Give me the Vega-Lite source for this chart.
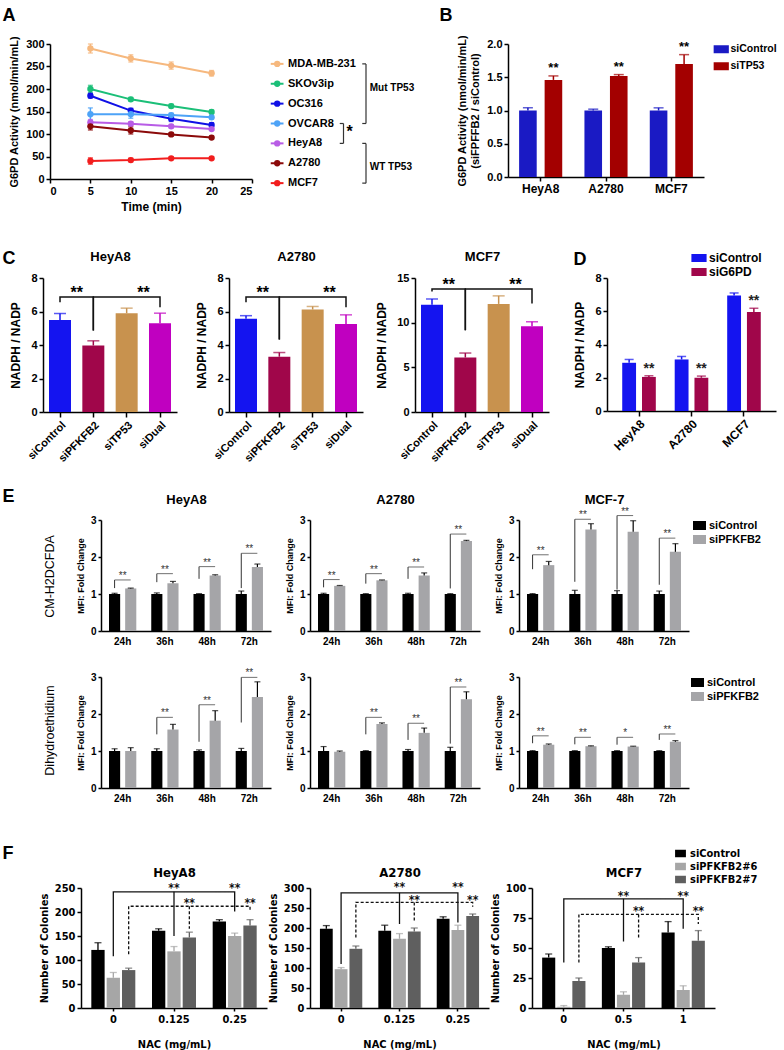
{
"$schema": "https://vega.github.io/schema/vega-lite/v6.json",
"background": "white",
"padding": {"left": 1, "top": 6, "right": 2, "bottom": 2},
"datasets": {
"a": [
{"line":"MDA-MB-231","t":5,"v":290,"err":10},{"line":"MDA-MB-231","t":10,"v":268,"err":8},{"line":"MDA-MB-231","t":15,"v":252,"err":8},{"line":"MDA-MB-231","t":20,"v":235,"err":6},
{"line":"SKOv3ip","t":5,"v":200,"err":8},{"line":"SKOv3ip","t":10,"v":177,"err":4},{"line":"SKOv3ip","t":15,"v":162,"err":4},{"line":"SKOv3ip","t":20,"v":149,"err":4},
{"line":"OC316","t":5,"v":185,"err":5},{"line":"OC316","t":10,"v":152,"err":5},{"line":"OC316","t":15,"v":134,"err":6},{"line":"OC316","t":20,"v":120,"err":5},
{"line":"OVCAR8","t":5,"v":144,"err":14},{"line":"OVCAR8","t":10,"v":144,"err":9},{"line":"OVCAR8","t":15,"v":142,"err":4},{"line":"OVCAR8","t":20,"v":137,"err":4},
{"line":"HeyA8","t":5,"v":126,"err":6},{"line":"HeyA8","t":10,"v":123,"err":4},{"line":"HeyA8","t":15,"v":117,"err":4},{"line":"HeyA8","t":20,"v":111,"err":3},
{"line":"A2780","t":5,"v":117,"err":8},{"line":"A2780","t":10,"v":108,"err":8},{"line":"A2780","t":15,"v":99,"err":4},{"line":"A2780","t":20,"v":92,"err":3},
{"line":"MCF7","t":5,"v":40,"err":7},{"line":"MCF7","t":10,"v":42,"err":4},{"line":"MCF7","t":15,"v":46,"err":3},{"line":"MCF7","t":20,"v":46,"err":3}
],
"cells": [{"name":"MDA-MB-231"},{"name":"SKOv3ip"},{"name":"OC316"},{"name":"OVCAR8"},{"name":"HeyA8"},{"name":"A2780"},{"name":"MCF7"}],
"b": [
{"cell":"HeyA8","grp":"siControl","v":1.0,"hi":1.04},{"cell":"HeyA8","grp":"siTP53","v":1.46,"hi":1.52},
{"cell":"A2780","grp":"siControl","v":1.0,"hi":1.02},{"cell":"A2780","grp":"siTP53","v":1.52,"hi":1.54},
{"cell":"MCF7","grp":"siControl","v":1.0,"hi":1.04},{"cell":"MCF7","grp":"siTP53","v":1.70,"hi":1.84}
],
"c": [
{"cell":"HeyA8","si":"siControl","v":5.5,"hi":5.88},{"cell":"HeyA8","si":"siPFKFB2","v":3.97,"hi":4.25},{"cell":"HeyA8","si":"siTP53","v":5.9,"hi":6.2},{"cell":"HeyA8","si":"siDual","v":5.3,"hi":5.9},
{"cell":"A2780","si":"siControl","v":5.57,"hi":5.75},{"cell":"A2780","si":"siPFKFB2","v":3.3,"hi":3.55},{"cell":"A2780","si":"siTP53","v":6.12,"hi":6.3},{"cell":"A2780","si":"siDual","v":5.25,"hi":5.8},
{"cell":"MCF7","si":"siControl","v":12.0,"hi":12.65},{"cell":"MCF7","si":"siPFKFB2","v":6.1,"hi":6.6},{"cell":"MCF7","si":"siTP53","v":12.1,"hi":13.0},{"cell":"MCF7","si":"siDual","v":9.6,"hi":10.1}
],
"cbr": [
{"cell":"HeyA8","seg":"L","ord":1,"si":"siControl","y":6.55},{"cell":"HeyA8","seg":"L","ord":2,"si":"siControl","y":6.87},{"cell":"HeyA8","seg":"L","ord":3,"si":"siPFKFB2","y":6.87},{"cell":"HeyA8","seg":"L","ord":4,"si":"siPFKFB2","y":4.86},
{"cell":"HeyA8","seg":"R","ord":1,"si":"siPFKFB2","y":4.86},{"cell":"HeyA8","seg":"R","ord":2,"si":"siPFKFB2","y":6.87},{"cell":"HeyA8","seg":"R","ord":3,"si":"siDual","y":6.87},{"cell":"HeyA8","seg":"R","ord":4,"si":"siDual","y":6.25},
{"cell":"A2780","seg":"L","ord":1,"si":"siControl","y":6.55},{"cell":"A2780","seg":"L","ord":2,"si":"siControl","y":6.87},{"cell":"A2780","seg":"L","ord":3,"si":"siPFKFB2","y":6.87},{"cell":"A2780","seg":"L","ord":4,"si":"siPFKFB2","y":4.33},
{"cell":"A2780","seg":"R","ord":1,"si":"siPFKFB2","y":4.33},{"cell":"A2780","seg":"R","ord":2,"si":"siPFKFB2","y":6.87},{"cell":"A2780","seg":"R","ord":3,"si":"siDual","y":6.87},{"cell":"A2780","seg":"R","ord":4,"si":"siDual","y":6.25},
{"cell":"MCF7","seg":"L","ord":1,"si":"siControl","y":13.5},{"cell":"MCF7","seg":"L","ord":2,"si":"siControl","y":13.76},{"cell":"MCF7","seg":"L","ord":3,"si":"siPFKFB2","y":13.76},{"cell":"MCF7","seg":"L","ord":4,"si":"siPFKFB2","y":9.15},
{"cell":"MCF7","seg":"R","ord":1,"si":"siPFKFB2","y":9.15},{"cell":"MCF7","seg":"R","ord":2,"si":"siPFKFB2","y":13.76},{"cell":"MCF7","seg":"R","ord":3,"si":"siDual","y":13.76},{"cell":"MCF7","seg":"R","ord":4,"si":"siDual","y":12.15}
],
"cst": [
{"cell":"HeyA8","si":"siPFKFB2","y":7.26},{"cell":"HeyA8","si":"siDual","y":7.26},
{"cell":"A2780","si":"siPFKFB2","y":7.26},{"cell":"A2780","si":"siDual","y":7.26},
{"cell":"MCF7","si":"siPFKFB2","y":14.6},{"cell":"MCF7","si":"siDual","y":14.6}
],
"d": [
{"cell":"HeyA8","grp":"siControl","v":2.9,"hi":3.1},{"cell":"HeyA8","grp":"siG6PD","v":2.05,"hi":2.12},
{"cell":"A2780","grp":"siControl","v":3.1,"hi":3.28},{"cell":"A2780","grp":"siG6PD","v":2.0,"hi":2.1},
{"cell":"MCF7","grp":"siControl","v":6.95,"hi":7.1},{"cell":"MCF7","grp":"siG6PD","v":5.95,"hi":6.18}
],
"e": [
{"row":"t","cell":"HeyA8","time":"24h","grp":"siControl","v":1.0,"hi":1.02},{"row":"t","cell":"HeyA8","time":"36h","grp":"siControl","v":1.0,"hi":1.03},{"row":"t","cell":"HeyA8","time":"48h","grp":"siControl","v":1.0,"hi":1.01},{"row":"t","cell":"HeyA8","time":"72h","grp":"siControl","v":1.0,"hi":1.08},
{"row":"t","cell":"HeyA8","time":"24h","grp":"siPFKFB2","v":1.15,"hi":1.16},{"row":"t","cell":"HeyA8","time":"36h","grp":"siPFKFB2","v":1.29,"hi":1.34},{"row":"t","cell":"HeyA8","time":"48h","grp":"siPFKFB2","v":1.50,"hi":1.52},{"row":"t","cell":"HeyA8","time":"72h","grp":"siPFKFB2","v":1.73,"hi":1.81},
{"row":"t","cell":"A2780","time":"24h","grp":"siControl","v":1.0,"hi":1.02},{"row":"t","cell":"A2780","time":"36h","grp":"siControl","v":1.0,"hi":1.01},{"row":"t","cell":"A2780","time":"48h","grp":"siControl","v":1.0,"hi":1.02},{"row":"t","cell":"A2780","time":"72h","grp":"siControl","v":1.0,"hi":1.01},
{"row":"t","cell":"A2780","time":"24h","grp":"siPFKFB2","v":1.22,"hi":1.23},{"row":"t","cell":"A2780","time":"36h","grp":"siPFKFB2","v":1.37,"hi":1.38},{"row":"t","cell":"A2780","time":"48h","grp":"siPFKFB2","v":1.50,"hi":1.57},{"row":"t","cell":"A2780","time":"72h","grp":"siPFKFB2","v":2.43,"hi":2.45},
{"row":"t","cell":"MCF-7","time":"24h","grp":"siControl","v":1.0,"hi":1.01},{"row":"t","cell":"MCF-7","time":"36h","grp":"siControl","v":1.0,"hi":1.10},{"row":"t","cell":"MCF-7","time":"48h","grp":"siControl","v":1.0,"hi":1.09},{"row":"t","cell":"MCF-7","time":"72h","grp":"siControl","v":1.0,"hi":1.08},
{"row":"t","cell":"MCF-7","time":"24h","grp":"siPFKFB2","v":1.78,"hi":1.88},{"row":"t","cell":"MCF-7","time":"36h","grp":"siPFKFB2","v":2.74,"hi":2.90},{"row":"t","cell":"MCF-7","time":"48h","grp":"siPFKFB2","v":2.68,"hi":2.98},{"row":"t","cell":"MCF-7","time":"72h","grp":"siPFKFB2","v":2.14,"hi":2.36},
{"row":"b","cell":"HeyA8","time":"24h","grp":"siControl","v":1.0,"hi":1.06},{"row":"b","cell":"HeyA8","time":"36h","grp":"siControl","v":1.0,"hi":1.06},{"row":"b","cell":"HeyA8","time":"48h","grp":"siControl","v":1.0,"hi":1.03},{"row":"b","cell":"HeyA8","time":"72h","grp":"siControl","v":1.0,"hi":1.07},
{"row":"b","cell":"HeyA8","time":"24h","grp":"siPFKFB2","v":1.0,"hi":1.09},{"row":"b","cell":"HeyA8","time":"36h","grp":"siPFKFB2","v":1.58,"hi":1.72},{"row":"b","cell":"HeyA8","time":"48h","grp":"siPFKFB2","v":1.82,"hi":2.09},{"row":"b","cell":"HeyA8","time":"72h","grp":"siPFKFB2","v":2.46,"hi":2.87},
{"row":"b","cell":"A2780","time":"24h","grp":"siControl","v":1.0,"hi":1.12},{"row":"b","cell":"A2780","time":"36h","grp":"siControl","v":1.0,"hi":1.01},{"row":"b","cell":"A2780","time":"48h","grp":"siControl","v":1.0,"hi":1.04},{"row":"b","cell":"A2780","time":"72h","grp":"siControl","v":1.0,"hi":1.10},
{"row":"b","cell":"A2780","time":"24h","grp":"siPFKFB2","v":0.98,"hi":1.0},{"row":"b","cell":"A2780","time":"36h","grp":"siPFKFB2","v":1.73,"hi":1.76},{"row":"b","cell":"A2780","time":"48h","grp":"siPFKFB2","v":1.49,"hi":1.62},{"row":"b","cell":"A2780","time":"72h","grp":"siPFKFB2","v":2.40,"hi":2.60},
{"row":"b","cell":"MCF-7","time":"24h","grp":"siControl","v":1.0,"hi":1.01},{"row":"b","cell":"MCF-7","time":"36h","grp":"siControl","v":1.0,"hi":1.01},{"row":"b","cell":"MCF-7","time":"48h","grp":"siControl","v":1.0,"hi":1.01},{"row":"b","cell":"MCF-7","time":"72h","grp":"siControl","v":1.0,"hi":1.01},
{"row":"b","cell":"MCF-7","time":"24h","grp":"siPFKFB2","v":1.17,"hi":1.19},{"row":"b","cell":"MCF-7","time":"36h","grp":"siPFKFB2","v":1.13,"hi":1.14},{"row":"b","cell":"MCF-7","time":"48h","grp":"siPFKFB2","v":1.12,"hi":1.13},{"row":"b","cell":"MCF-7","time":"72h","grp":"siPFKFB2","v":1.25,"hi":1.28}
],
"ebr": [
{"row":"t","cell":"HeyA8","time":"24h","yb":1.38,"yl":1.16,"star":"**"},{"row":"t","cell":"HeyA8","time":"36h","yb":1.55,"yl":1.32,"star":"**"},{"row":"t","cell":"HeyA8","time":"48h","yb":1.74,"yl":1.41,"star":"**"},{"row":"t","cell":"HeyA8","time":"72h","yb":2.10,"yl":1.16,"star":"**"},
{"row":"t","cell":"A2780","time":"24h","yb":1.39,"yl":1.18,"star":"**"},{"row":"t","cell":"A2780","time":"36h","yb":1.55,"yl":1.28,"star":"**"},{"row":"t","cell":"A2780","time":"48h","yb":1.73,"yl":1.41,"star":"**"},{"row":"t","cell":"A2780","time":"72h","yb":2.62,"yl":1.15,"star":"**"},
{"row":"t","cell":"MCF-7","time":"24h","yb":2.06,"yl":1.67,"star":"**"},{"row":"t","cell":"MCF-7","time":"36h","yb":3.02,"yl":1.33,"star":"**"},{"row":"t","cell":"MCF-7","time":"48h","yb":3.12,"yl":1.12,"star":"**"},{"row":"t","cell":"MCF-7","time":"72h","yb":2.51,"yl":1.25,"star":"**"},
{"row":"b","cell":"HeyA8","time":"36h","yb":1.91,"yl":1.45,"star":"**"},{"row":"b","cell":"HeyA8","time":"48h","yb":2.25,"yl":1.25,"star":"**"},{"row":"b","cell":"HeyA8","time":"72h","yb":2.99,"yl":1.77,"star":"**"},
{"row":"b","cell":"A2780","time":"36h","yb":1.91,"yl":1.45,"star":"**"},{"row":"b","cell":"A2780","time":"48h","yb":1.75,"yl":1.30,"star":"**"},{"row":"b","cell":"A2780","time":"72h","yb":2.73,"yl":1.20,"star":"**"},
{"row":"b","cell":"MCF-7","time":"24h","yb":1.41,"yl":1.21,"star":"**"},{"row":"b","cell":"MCF-7","time":"36h","yb":1.37,"yl":1.18,"star":"**"},{"row":"b","cell":"MCF-7","time":"48h","yb":1.37,"yl":1.17,"star":"*"},{"row":"b","cell":"MCF-7","time":"72h","yb":1.46,"yl":1.30,"star":"**"}
],
"f": [
{"cell":"HeyA8","nac":"0","grp":"siControl","v":121,"hi":136},{"cell":"HeyA8","nac":"0","grp":"siPFKFB2#6","v":63,"hi":74},{"cell":"HeyA8","nac":"0","grp":"siPFKFB2#7","v":79,"hi":83},
{"cell":"HeyA8","nac":"0.125","grp":"siControl","v":161,"hi":165},{"cell":"HeyA8","nac":"0.125","grp":"siPFKFB2#6","v":118,"hi":128},{"cell":"HeyA8","nac":"0.125","grp":"siPFKFB2#7","v":147,"hi":158},
{"cell":"HeyA8","nac":"0.25","grp":"siControl","v":180,"hi":184},{"cell":"HeyA8","nac":"0.25","grp":"siPFKFB2#6","v":150,"hi":156},{"cell":"HeyA8","nac":"0.25","grp":"siPFKFB2#7","v":172,"hi":184},
{"cell":"A2780","nac":"0","grp":"siControl","v":198,"hi":206},{"cell":"A2780","nac":"0","grp":"siPFKFB2#6","v":97,"hi":101},{"cell":"A2780","nac":"0","grp":"siPFKFB2#7","v":148,"hi":155},
{"cell":"A2780","nac":"0.125","grp":"siControl","v":193,"hi":207},{"cell":"A2780","nac":"0.125","grp":"siPFKFB2#6","v":173,"hi":186},{"cell":"A2780","nac":"0.125","grp":"siPFKFB2#7","v":191,"hi":200},
{"cell":"A2780","nac":"0.25","grp":"siControl","v":223,"hi":228},{"cell":"A2780","nac":"0.25","grp":"siPFKFB2#6","v":195,"hi":207},{"cell":"A2780","nac":"0.25","grp":"siPFKFB2#7","v":230,"hi":235},
{"cell":"MCF7","nac":"0","grp":"siControl","v":42,"hi":45},{"cell":"MCF7","nac":"0","grp":"siPFKFB2#6","v":1,"hi":2},{"cell":"MCF7","nac":"0","grp":"siPFKFB2#7","v":22.5,"hi":25},
{"cell":"MCF7","nac":"0.5","grp":"siControl","v":50,"hi":51},{"cell":"MCF7","nac":"0.5","grp":"siPFKFB2#6","v":11,"hi":13.5},{"cell":"MCF7","nac":"0.5","grp":"siPFKFB2#7","v":38,"hi":42},
{"cell":"MCF7","nac":"1","grp":"siControl","v":63,"hi":72},{"cell":"MCF7","nac":"1","grp":"siPFKFB2#6","v":15,"hi":18.5},{"cell":"MCF7","nac":"1","grp":"siPFKFB2#7","v":56,"hi":64.5}
],
"fbr": [
{"cell":"HeyA8","seg":"s1","kind":"s","ord":1,"nac":"0","grp":"siPFKFB2#6","y":108},{"cell":"HeyA8","seg":"s1","kind":"s","ord":2,"nac":"0","grp":"siPFKFB2#6","y":242},{"cell":"HeyA8","seg":"s1","kind":"s","ord":3,"nac":"0.25","grp":"siPFKFB2#6","y":242},{"cell":"HeyA8","seg":"s1","kind":"s","ord":4,"nac":"0.25","grp":"siPFKFB2#6","y":201},
{"cell":"HeyA8","seg":"s2","kind":"s","ord":1,"nac":"0.125","grp":"siPFKFB2#6","y":242},{"cell":"HeyA8","seg":"s2","kind":"s","ord":2,"nac":"0.125","grp":"siPFKFB2#6","y":150},
{"cell":"HeyA8","seg":"d1","kind":"d","ord":1,"nac":"0","grp":"siPFKFB2#7","y":112},{"cell":"HeyA8","seg":"d1","kind":"d","ord":2,"nac":"0","grp":"siPFKFB2#7","y":212},{"cell":"HeyA8","seg":"d1","kind":"d","ord":3,"nac":"0.25","grp":"siPFKFB2#7","y":212},{"cell":"HeyA8","seg":"d1","kind":"d","ord":4,"nac":"0.25","grp":"siPFKFB2#7","y":201},
{"cell":"HeyA8","seg":"d2","kind":"d","ord":1,"nac":"0.125","grp":"siPFKFB2#7","y":212},{"cell":"HeyA8","seg":"d2","kind":"d","ord":2,"nac":"0.125","grp":"siPFKFB2#7","y":165},
{"cell":"A2780","seg":"s1","kind":"s","ord":1,"nac":"0","grp":"siPFKFB2#6","y":110},{"cell":"A2780","seg":"s1","kind":"s","ord":2,"nac":"0","grp":"siPFKFB2#6","y":288},{"cell":"A2780","seg":"s1","kind":"s","ord":3,"nac":"0.25","grp":"siPFKFB2#6","y":288},{"cell":"A2780","seg":"s1","kind":"s","ord":4,"nac":"0.25","grp":"siPFKFB2#6","y":214},
{"cell":"A2780","seg":"s2","kind":"s","ord":1,"nac":"0.125","grp":"siPFKFB2#6","y":288},{"cell":"A2780","seg":"s2","kind":"s","ord":2,"nac":"0.125","grp":"siPFKFB2#6","y":210},
{"cell":"A2780","seg":"d1","kind":"d","ord":1,"nac":"0","grp":"siPFKFB2#7","y":176},{"cell":"A2780","seg":"d1","kind":"d","ord":2,"nac":"0","grp":"siPFKFB2#7","y":264},{"cell":"A2780","seg":"d1","kind":"d","ord":3,"nac":"0.25","grp":"siPFKFB2#7","y":264},{"cell":"A2780","seg":"d1","kind":"d","ord":4,"nac":"0.25","grp":"siPFKFB2#7","y":253},
{"cell":"A2780","seg":"d2","kind":"d","ord":1,"nac":"0.125","grp":"siPFKFB2#7","y":264},{"cell":"A2780","seg":"d2","kind":"d","ord":2,"nac":"0.125","grp":"siPFKFB2#7","y":218},
{"cell":"MCF7","seg":"s1","kind":"s","ord":1,"nac":"0","grp":"siPFKFB2#6","y":38},{"cell":"MCF7","seg":"s1","kind":"s","ord":2,"nac":"0","grp":"siPFKFB2#6","y":91},{"cell":"MCF7","seg":"s1","kind":"s","ord":3,"nac":"1","grp":"siPFKFB2#6","y":91},{"cell":"MCF7","seg":"s1","kind":"s","ord":4,"nac":"1","grp":"siPFKFB2#6","y":66},
{"cell":"MCF7","seg":"s2","kind":"s","ord":1,"nac":"0.5","grp":"siPFKFB2#6","y":91},{"cell":"MCF7","seg":"s2","kind":"s","ord":2,"nac":"0.5","grp":"siPFKFB2#6","y":55.5},
{"cell":"MCF7","seg":"d1","kind":"d","ord":1,"nac":"0","grp":"siPFKFB2#7","y":38},{"cell":"MCF7","seg":"d1","kind":"d","ord":2,"nac":"0","grp":"siPFKFB2#7","y":78},{"cell":"MCF7","seg":"d1","kind":"d","ord":3,"nac":"1","grp":"siPFKFB2#7","y":78},{"cell":"MCF7","seg":"d1","kind":"d","ord":4,"nac":"1","grp":"siPFKFB2#7","y":70},
{"cell":"MCF7","seg":"d2","kind":"d","ord":1,"nac":"0.5","grp":"siPFKFB2#7","y":78},{"cell":"MCF7","seg":"d2","kind":"d","ord":2,"nac":"0.5","grp":"siPFKFB2#7","y":57.5}
],
"fst": [
{"cell":"HeyA8","nac":"0.125","grp":"siPFKFB2#6","y":257},{"cell":"HeyA8","nac":"0.25","grp":"siPFKFB2#6","y":257},{"cell":"HeyA8","nac":"0.125","grp":"siPFKFB2#7","y":225},{"cell":"HeyA8","nac":"0.25","grp":"siPFKFB2#7","y":225},
{"cell":"A2780","nac":"0.125","grp":"siPFKFB2#6","y":310},{"cell":"A2780","nac":"0.25","grp":"siPFKFB2#6","y":310},{"cell":"A2780","nac":"0.125","grp":"siPFKFB2#7","y":278},{"cell":"A2780","nac":"0.25","grp":"siPFKFB2#7","y":278},
{"cell":"MCF7","nac":"0.5","grp":"siPFKFB2#6","y":96},{"cell":"MCF7","nac":"1","grp":"siPFKFB2#6","y":96},{"cell":"MCF7","nac":"0.5","grp":"siPFKFB2#7","y":83},{"cell":"MCF7","nac":"1","grp":"siPFKFB2#7","y":83}
]
},
"config": {
"view": {"stroke": null},
"font": "Liberation Sans",
"axis": {"domainColor": "#000", "domainWidth": 1.5, "tickColor": "#000", "tickWidth": 1.5, "tickSize": 4, "labelColor": "#000", "labelFontWeight": "bold", "labelFontSize": 11, "labelFont": "Liberation Sans", "titleColor": "#000", "titleFontWeight": "bold", "titleFontSize": 12, "titleFont": "Liberation Sans", "grid": false, "labelPadding": 2, "labelOverlap": false},
"legend": {"labelFont": "Liberation Sans", "labelFontWeight": "bold", "labelColor": "#000", "padding": 0}
},
"spacing": 0,
"resolve": {"scale": {"color": "independent", "xOffset": "independent", "stroke": "independent", "fill": "independent", "strokeDash": "independent"}, "legend": {"color": "independent", "stroke": "independent", "fill": "independent", "strokeDash": "independent"}},
"vconcat": [
{
"bounds": "flush", "spacing": 0,
"resolve": {"scale": {"color": "independent", "xOffset": "independent", "stroke": "independent", "fill": "independent", "strokeDash": "independent"}, "legend": {"color": "independent", "stroke": "independent", "fill": "independent", "strokeDash": "independent"}},
"hconcat": [
{"width": 48, "height": 204, "data": {"values": [{"k": 1}]}, "mark": {"type": "point", "opacity": 0, "size": 1},
"encoding": {"x": {"datum": 0, "type": "quantitative", "scale": {"domain": [0, 1]}, "axis": {"orient": "top", "domain": false, "ticks": false, "labels": false, "grid": false, "title": "A", "titleX": 0, "titleY": -24, "titleAlign": "left", "titleBaseline": "alphabetic", "titleAngle": 0, "titleFontSize": 18}},
"y": {"datum": 0, "type": "quantitative", "scale": {"domain": [0, 1]}, "axis": null}}},
{
"width": 202, "height": 135,
"data": {"name": "a"},
"encoding": {
"x": {"field": "t", "type": "quantitative", "scale": {"domain": [0, 25], "nice": false}, "axis": {"values": [0,5,10,15,20,25], "title": "Time (min)", "titlePadding": 5}},
"y": {"field": "v", "type": "quantitative", "title": "G6PD Activity (nmol/min/mL)", "scale": {"domain": [0, 300], "nice": false}, "axis": {"values": [0,50,100,150,200,250,300], "titlePadding": 6, "titleFontSize": 11}},
"color": {"field": "line", "type": "nominal", "scale": {"domain": ["MDA-MB-231","SKOv3ip","OC316","OVCAR8","HeyA8","A2780","MCF7"], "range": ["#F6B87E","#1BBF78","#1010E6","#4DA3F7","#B85CE6","#8B0A0A","#F21D1D"]}, "legend": null}
},
"layer": [
{"mark": {"type": "line", "strokeWidth": 2}},
{"mark": {"type": "errorbar", "ticks": true, "thickness": 1.5}, "encoding": {"yError": {"field": "err"}}},
{"mark": {"type": "point", "filled": true, "size": 40, "opacity": 1}}
]
},
{"width": 15, "height": 1, "data": {"values": [{"k": 1}]}, "mark": {"type": "point", "opacity": 0, "size": 1}, "encoding": {}},
{
"width": 150, "height": 159,
"layer": [
{"data": {"name": "cells"}, "mark": {"type": "rule", "strokeWidth": 2},
"encoding": {
"x": {"datum": 0.25, "type": "quantitative", "scale": {"domain": [0, 10], "nice": false}, "axis": null},
"x2": {"datum": 1.1},
"y": {"field": "name", "type": "nominal", "scale": {"type": "point", "domain": ["MDA-MB-231","SKOv3ip","OC316","OVCAR8","HeyA8","A2780","MCF7"], "padding": 2.83}, "axis": null},
"color": {"field": "name", "type": "nominal", "scale": {"domain": ["MDA-MB-231","SKOv3ip","OC316","OVCAR8","HeyA8","A2780","MCF7"], "range": ["#F6B87E","#1BBF78","#1010E6","#4DA3F7","#B85CE6","#8B0A0A","#F21D1D"]}, "legend": null}
}},
{"data": {"name": "cells"}, "mark": {"type": "point", "filled": true, "size": 40, "opacity": 1},
"encoding": {"x": {"datum": 0.68, "type": "quantitative"}, "y": {"field": "name", "type": "nominal"}, "color": {"field": "name", "type": "nominal"}}},
{"data": {"name": "cells"}, "mark": {"type": "text", "align": "left", "baseline": "middle", "fontSize": 11, "fontWeight": "bold", "color": "#000"},
"encoding": {"x": {"datum": 1.4, "type": "quantitative"}, "y": {"field": "name", "type": "nominal"}, "text": {"field": "name"}}},
{"data": {"values": [{"from": "MDA-MB-231", "to": "OVCAR8"}, {"from": "HeyA8", "to": "MCF7"}]}, "mark": {"type": "rule", "color": "#333", "strokeWidth": 1.2},
"encoding": {"x": {"datum": 6.6, "type": "quantitative"}, "y": {"field": "from", "type": "nominal"}, "y2": {"field": "to"}}},
{"data": {"values": [{"end": "MDA-MB-231"}, {"end": "OVCAR8"}, {"end": "HeyA8"}, {"end": "MCF7"}]}, "mark": {"type": "rule", "color": "#333", "strokeWidth": 1.2},
"encoding": {"x": {"datum": 6.35, "type": "quantitative"}, "x2": {"datum": 6.6}, "y": {"field": "end", "type": "nominal"}}},
{"data": {"values": [{"lab": "Mut TP53", "at": "SKOv3ip"}, {"lab": "WT TP53", "at": "A2780"}]}, "mark": {"type": "text", "align": "left", "baseline": "middle", "dy": 4, "fontSize": 10, "fontWeight": "bold", "color": "#000"},
"encoding": {"x": {"datum": 6.85, "type": "quantitative"}, "y": {"field": "at", "type": "nominal"}, "text": {"field": "lab"}}},
{"data": {"values": [{"from": "OVCAR8", "to": "HeyA8"}]}, "mark": {"type": "rule", "color": "#333", "strokeWidth": 1.2},
"encoding": {"x": {"datum": 5.1, "type": "quantitative"}, "y": {"field": "from", "type": "nominal"}, "y2": {"field": "to"}}},
{"data": {"values": [{"end": "OVCAR8"}, {"end": "HeyA8"}]}, "mark": {"type": "rule", "color": "#333", "strokeWidth": 1.2},
"encoding": {"x": {"datum": 4.85, "type": "quantitative"}, "x2": {"datum": 5.1}, "y": {"field": "end", "type": "nominal"}}},
{"data": {"values": [{"lab": "*", "at": "OVCAR8"}]}, "mark": {"type": "text", "align": "left", "baseline": "middle", "dy": 8, "fontSize": 16, "fontWeight": "bold", "color": "#000"},
"encoding": {"x": {"datum": 5.3, "type": "quantitative"}, "y": {"field": "at", "type": "nominal"}, "text": {"field": "lab"}}}
]
},
{"width": 91, "height": 1, "data": {"values": [{"k": 1}]}, "mark": {"type": "point", "opacity": 0, "size": 1},
"encoding": {"x": {"datum": 0, "type": "quantitative", "scale": {"domain": [0, 1]}, "axis": {"orient": "top", "domain": false, "ticks": false, "labels": false, "grid": false, "title": "B", "titleX": 22, "titleY": -24, "titleAlign": "left", "titleBaseline": "alphabetic", "titleAngle": 0, "titleFontSize": 18}},
"y": {"datum": 0, "type": "quantitative", "scale": {"domain": [0, 1]}, "axis": null}}},
{
"width": 196, "height": 133,
"data": {"name": "b"},
"layer": [
{"mark": {"type": "bar"},
"encoding": {
"x": {"field": "cell", "type": "nominal", "scale": {"domain": ["HeyA8","A2780","MCF7"], "paddingInner": 0.34, "paddingOuter": 0.17}, "axis": {"title": null, "labelAngle": 0, "labelFontSize": 12}},
"xOffset": {"field": "grp", "type": "nominal", "scale": {"domain": ["siControl","siTP53"], "paddingInner": 0.31}},
"y": {"field": "v", "type": "quantitative", "title": ["G6PD Activity (nmol/min/mL)", "(siFPFFB2 / siControl)"], "scale": {"domain": [0, 2], "nice": false}, "axis": {"values": [0,0.5,1,1.5,2], "tickCount": 5, "labelOverlap": false, "format": ".1f", "titleFontSize": 11, "titlePadding": 6}},
"color": {"field": "grp", "type": "nominal", "scale": {"domain": ["siControl","siTP53"], "range": ["#1A1AC4","#A30000"]}, "legend": {"title": null, "orient": "right", "offset": 12, "symbolType": "M-1.9,-1H1.9V1H-1.9Z", "symbolSize": 64, "symbolStrokeWidth": 0, "labelFontSize": 10.5, "labelOffset": 4, "rowPadding": 6}}
}},
{"mark": {"type": "rule", "strokeWidth": 1.5},
"encoding": {"x": {"field": "cell", "type": "nominal"}, "xOffset": {"field": "grp", "type": "nominal"}, "y": {"field": "v", "type": "quantitative", "title": ["G6PD Activity (nmol/min/mL)", "(siFPFFB2 / siControl)"]}, "y2": {"field": "hi"},
"stroke": {"field": "grp", "type": "nominal", "scale": {"domain": ["siControl","siTP53"], "range": ["#1A1AC4","#A30000"]}, "legend": null}}},
{"mark": {"type": "tick", "thickness": 1.5, "size": 10},
"encoding": {"x": {"field": "cell", "type": "nominal"}, "xOffset": {"field": "grp", "type": "nominal"}, "y": {"field": "hi", "type": "quantitative", "title": ["G6PD Activity (nmol/min/mL)", "(siFPFFB2 / siControl)"]},
"fill": {"field": "grp", "type": "nominal", "scale": {"domain": ["siControl","siTP53"], "range": ["#1A1AC4","#A30000"]}, "legend": null}}},
{"transform": [{"filter": "datum.grp === 'siTP53'"}], "mark": {"type": "text", "text": "**", "baseline": "alphabetic", "dy": -4, "fontSize": 13, "fontWeight": "bold", "color": "#000"},
"encoding": {"x": {"field": "cell", "type": "nominal"}, "xOffset": {"field": "grp", "type": "nominal"}, "y": {"field": "hi", "type": "quantitative", "title": ["G6PD Activity (nmol/min/mL)", "(siFPFFB2 / siControl)"]}}}
]
}
]
},
{
"bounds": "flush", "spacing": 0,
"resolve": {"scale": {"color": "independent", "xOffset": "independent", "stroke": "independent", "fill": "independent", "strokeDash": "independent"}, "legend": {"color": "independent", "stroke": "independent", "fill": "independent", "strokeDash": "independent"}},
"hconcat": [
{"width": 41, "height": 208, "data": {"values": [{"k": 1}]}, "mark": {"type": "point", "opacity": 0, "size": 1},
"encoding": {"x": {"datum": 0, "type": "quantitative", "scale": {"domain": [0, 1]}, "axis": {"orient": "top", "domain": false, "ticks": false, "labels": false, "grid": false, "title": "C", "titleX": 0, "titleY": -15, "titleAlign": "left", "titleBaseline": "alphabetic", "titleAngle": 0, "titleFontSize": 18}},
"y": {"datum": 0, "type": "quantitative", "scale": {"domain": [0, 1]}, "axis": {"orient": "left", "domain": false, "ticks": false, "labels": false, "grid": false, "title": "HeyA8", "titleX": 108, "titleY": -17.5, "titleAlign": "center", "titleBaseline": "alphabetic", "titleAngle": 0, "titleFontSize": 13}}}},
{
"width": 134, "height": 134,
"layer": [
{"data": {"name": "c"}, "transform": [{"filter": "datum.cell === 'HeyA8'"}], "mark": {"type": "bar"},
"encoding": {
"x": {"field": "si", "type": "nominal", "scale": {"domain": ["siControl","siPFKFB2","siTP53","siDual"], "paddingInner": 0.34, "paddingOuter": 0.18}, "axis": {"title": null, "labelAngle": -45, "tickSize": 5}},
"y": {"field": "v", "type": "quantitative", "title": "NADPH / NADP", "scale": {"domain": [0, 8], "nice": false}, "axis": {"values": [0,2,4,6,8], "tickCount": 5, "labelOverlap": false, "titlePadding": 8}},
"color": {"field": "si", "type": "nominal", "scale": {"domain": ["siControl","siPFKFB2","siTP53","siDual"], "range": ["#1414F0","#A0064A","#C8924E","#C000C0"]}, "legend": null}}},
{"data": {"name": "c"}, "transform": [{"filter": "datum.cell === 'HeyA8'"}], "mark": {"type": "rule", "strokeWidth": 1.5},
"encoding": {"x": {"field": "si", "type": "nominal"}, "y": {"field": "v", "type": "quantitative", "title": "NADPH / NADP"}, "y2": {"field": "hi"},
"stroke": {"field": "si", "type": "nominal", "scale": {"domain": ["siControl","siPFKFB2","siTP53","siDual"], "range": ["#1414F0","#A0064A","#C8924E","#C000C0"]}, "legend": null}}},
{"data": {"name": "c"}, "transform": [{"filter": "datum.cell === 'HeyA8'"}], "mark": {"type": "tick", "thickness": 1.5, "size": 12},
"encoding": {"x": {"field": "si", "type": "nominal"}, "y": {"field": "hi", "type": "quantitative", "title": "NADPH / NADP"},
"fill": {"field": "si", "type": "nominal", "scale": {"domain": ["siControl","siPFKFB2","siTP53","siDual"], "range": ["#1414F0","#A0064A","#C8924E","#C000C0"]}, "legend": null}}},
{"data": {"name": "cbr"}, "transform": [{"filter": "datum.cell === 'HeyA8'"}], "mark": {"type": "line", "color": "#111", "strokeWidth": 1.5},
"encoding": {"x": {"field": "si", "type": "nominal"}, "y": {"field": "y", "type": "quantitative", "title": "NADPH / NADP"}, "detail": {"field": "seg", "type": "nominal"}, "order": {"field": "ord", "type": "quantitative"}}},
{"data": {"name": "cst"}, "transform": [{"filter": "datum.cell === 'HeyA8'"}], "mark": {"type": "text", "text": "**", "dx": -16.5, "dy": 8, "baseline": "alphabetic", "fontSize": 16, "fontWeight": "bold", "color": "#000"},
"encoding": {"x": {"field": "si", "type": "nominal"}, "y": {"field": "y", "type": "quantitative", "title": "NADPH / NADP"}}}
]
},
{"width": 52, "height": 1, "data": {"values": [{"k": 1}]}, "mark": {"type": "point", "opacity": 0, "size": 1},
"encoding": {"x": {"datum": 0, "type": "quantitative", "scale": {"domain": [0, 1]}, "axis": {"orient": "top", "domain": false, "ticks": false, "labels": false, "grid": false, "title": "A2780", "titleX": 119, "titleY": -17.5, "titleAlign": "center", "titleBaseline": "alphabetic", "titleAngle": 0, "titleFontSize": 13}},
"y": {"datum": 0, "type": "quantitative", "scale": {"domain": [0, 1]}, "axis": null}}},
{
"width": 134, "height": 134,
"layer": [
{"data": {"name": "c"}, "transform": [{"filter": "datum.cell === 'A2780'"}], "mark": {"type": "bar"},
"encoding": {
"x": {"field": "si", "type": "nominal", "scale": {"domain": ["siControl","siPFKFB2","siTP53","siDual"], "paddingInner": 0.34, "paddingOuter": 0.18}, "axis": {"title": null, "labelAngle": -45, "tickSize": 5}},
"y": {"field": "v", "type": "quantitative", "title": "NADPH / NADP", "scale": {"domain": [0, 8], "nice": false}, "axis": {"values": [0,2,4,6,8], "tickCount": 5, "labelOverlap": false, "titlePadding": 8}},
"color": {"field": "si", "type": "nominal", "scale": {"domain": ["siControl","siPFKFB2","siTP53","siDual"], "range": ["#1414F0","#A0064A","#C8924E","#C000C0"]}, "legend": null}}},
{"data": {"name": "c"}, "transform": [{"filter": "datum.cell === 'A2780'"}], "mark": {"type": "rule", "strokeWidth": 1.5},
"encoding": {"x": {"field": "si", "type": "nominal"}, "y": {"field": "v", "type": "quantitative", "title": "NADPH / NADP"}, "y2": {"field": "hi"},
"stroke": {"field": "si", "type": "nominal", "scale": {"domain": ["siControl","siPFKFB2","siTP53","siDual"], "range": ["#1414F0","#A0064A","#C8924E","#C000C0"]}, "legend": null}}},
{"data": {"name": "c"}, "transform": [{"filter": "datum.cell === 'A2780'"}], "mark": {"type": "tick", "thickness": 1.5, "size": 12},
"encoding": {"x": {"field": "si", "type": "nominal"}, "y": {"field": "hi", "type": "quantitative", "title": "NADPH / NADP"},
"fill": {"field": "si", "type": "nominal", "scale": {"domain": ["siControl","siPFKFB2","siTP53","siDual"], "range": ["#1414F0","#A0064A","#C8924E","#C000C0"]}, "legend": null}}},
{"data": {"name": "cbr"}, "transform": [{"filter": "datum.cell === 'A2780'"}], "mark": {"type": "line", "color": "#111", "strokeWidth": 1.5},
"encoding": {"x": {"field": "si", "type": "nominal"}, "y": {"field": "y", "type": "quantitative", "title": "NADPH / NADP"}, "detail": {"field": "seg", "type": "nominal"}, "order": {"field": "ord", "type": "quantitative"}}},
{"data": {"name": "cst"}, "transform": [{"filter": "datum.cell === 'A2780'"}], "mark": {"type": "text", "text": "**", "dx": -16.5, "dy": 8, "baseline": "alphabetic", "fontSize": 16, "fontWeight": "bold", "color": "#000"},
"encoding": {"x": {"field": "si", "type": "nominal"}, "y": {"field": "y", "type": "quantitative", "title": "NADPH / NADP"}}}
]
},
{"width": 52, "height": 1, "data": {"values": [{"k": 1}]}, "mark": {"type": "point", "opacity": 0, "size": 1},
"encoding": {"x": {"datum": 0, "type": "quantitative", "scale": {"domain": [0, 1]}, "axis": {"orient": "top", "domain": false, "ticks": false, "labels": false, "grid": false, "title": "MCF7", "titleX": 119, "titleY": -17.5, "titleAlign": "center", "titleBaseline": "alphabetic", "titleAngle": 0, "titleFontSize": 13}},
"y": {"datum": 0, "type": "quantitative", "scale": {"domain": [0, 1]}, "axis": null}}},
{
"width": 134, "height": 134,
"layer": [
{"data": {"name": "c"}, "transform": [{"filter": "datum.cell === 'MCF7'"}], "mark": {"type": "bar"},
"encoding": {
"x": {"field": "si", "type": "nominal", "scale": {"domain": ["siControl","siPFKFB2","siTP53","siDual"], "paddingInner": 0.34, "paddingOuter": 0.18}, "axis": {"title": null, "labelAngle": -45, "tickSize": 5}},
"y": {"field": "v", "type": "quantitative", "title": "NADPH / NADP", "scale": {"domain": [0, 15], "nice": false}, "axis": {"values": [0,5,10,15], "tickCount": 4, "labelOverlap": false, "titlePadding": 8}},
"color": {"field": "si", "type": "nominal", "scale": {"domain": ["siControl","siPFKFB2","siTP53","siDual"], "range": ["#1414F0","#A0064A","#C8924E","#C000C0"]}, "legend": null}}},
{"data": {"name": "c"}, "transform": [{"filter": "datum.cell === 'MCF7'"}], "mark": {"type": "rule", "strokeWidth": 1.5},
"encoding": {"x": {"field": "si", "type": "nominal"}, "y": {"field": "v", "type": "quantitative", "title": "NADPH / NADP"}, "y2": {"field": "hi"},
"stroke": {"field": "si", "type": "nominal", "scale": {"domain": ["siControl","siPFKFB2","siTP53","siDual"], "range": ["#1414F0","#A0064A","#C8924E","#C000C0"]}, "legend": null}}},
{"data": {"name": "c"}, "transform": [{"filter": "datum.cell === 'MCF7'"}], "mark": {"type": "tick", "thickness": 1.5, "size": 12},
"encoding": {"x": {"field": "si", "type": "nominal"}, "y": {"field": "hi", "type": "quantitative", "title": "NADPH / NADP"},
"fill": {"field": "si", "type": "nominal", "scale": {"domain": ["siControl","siPFKFB2","siTP53","siDual"], "range": ["#1414F0","#A0064A","#C8924E","#C000C0"]}, "legend": null}}},
{"data": {"name": "cbr"}, "transform": [{"filter": "datum.cell === 'MCF7'"}], "mark": {"type": "line", "color": "#111", "strokeWidth": 1.5},
"encoding": {"x": {"field": "si", "type": "nominal"}, "y": {"field": "y", "type": "quantitative", "title": "NADPH / NADP"}, "detail": {"field": "seg", "type": "nominal"}, "order": {"field": "ord", "type": "quantitative"}}},
{"data": {"name": "cst"}, "transform": [{"filter": "datum.cell === 'MCF7'"}], "mark": {"type": "text", "text": "**", "dx": -16.5, "dy": 8, "baseline": "alphabetic", "fontSize": 16, "fontWeight": "bold", "color": "#000"},
"encoding": {"x": {"field": "si", "type": "nominal"}, "y": {"field": "y", "type": "quantitative", "title": "NADPH / NADP"}}}
]
},
{"width": 58, "height": 1, "data": {"values": [{"k": 1}]}, "mark": {"type": "point", "opacity": 0, "size": 1},
"encoding": {"x": {"datum": 0, "type": "quantitative", "scale": {"domain": [0, 1]}, "axis": {"orient": "top", "domain": false, "ticks": false, "labels": false, "grid": false, "title": "D", "titleX": 24, "titleY": -14, "titleAlign": "left", "titleBaseline": "alphabetic", "titleAngle": 0, "titleFontSize": 18}},
"y": {"datum": 0, "type": "quantitative", "scale": {"domain": [0, 1]}, "axis": null}}},
{
"width": 169, "height": 133,
"data": {"name": "d"},
"layer": [
{"mark": {"type": "bar"},
"encoding": {
"x": {"field": "cell", "type": "nominal", "scale": {"domain": ["HeyA8","A2780","MCF7"], "paddingInner": 0.36, "paddingOuter": 0.29}, "axis": {"title": null, "labelAngle": -45, "labelFontSize": 12, "tickSize": 5}},
"xOffset": {"field": "grp", "type": "nominal", "scale": {"domain": ["siControl","siG6PD"], "paddingInner": 0.3}},
"y": {"field": "v", "type": "quantitative", "title": "NADPH / NADP", "scale": {"domain": [0, 8], "nice": false}, "axis": {"values": [0,2,4,6,8], "tickCount": 5, "labelOverlap": false, "titlePadding": 8}},
"color": {"field": "grp", "type": "nominal", "scale": {"domain": ["siControl","siG6PD"], "range": ["#1414F0","#A0064A"]}, "legend": {"title": null, "orient": "none", "legendX": 86, "legendY": -26, "symbolType": "M-1.9,-1H1.9V1H-1.9Z", "symbolSize": 64, "symbolStrokeWidth": 0, "labelFontSize": 12, "rowPadding": 2}}
}},
{"mark": {"type": "rule", "strokeWidth": 1.5},
"encoding": {"x": {"field": "cell", "type": "nominal"}, "xOffset": {"field": "grp", "type": "nominal"}, "y": {"field": "v", "type": "quantitative", "title": "NADPH / NADP"}, "y2": {"field": "hi"},
"stroke": {"field": "grp", "type": "nominal", "scale": {"domain": ["siControl","siG6PD"], "range": ["#1414F0","#A0064A"]}, "legend": null}}},
{"mark": {"type": "tick", "thickness": 1.5, "size": 9},
"encoding": {"x": {"field": "cell", "type": "nominal"}, "xOffset": {"field": "grp", "type": "nominal"}, "y": {"field": "hi", "type": "quantitative", "title": "NADPH / NADP"},
"fill": {"field": "grp", "type": "nominal", "scale": {"domain": ["siControl","siG6PD"], "range": ["#1414F0","#A0064A"]}, "legend": null}}},
{"transform": [{"filter": "datum.grp === 'siG6PD'"}], "mark": {"type": "text", "text": "**", "baseline": "alphabetic", "dy": -3, "fontSize": 14, "fontWeight": "bold", "color": "#222"},
"encoding": {"x": {"field": "cell", "type": "nominal"}, "xOffset": {"field": "grp", "type": "nominal"}, "y": {"field": "hi", "type": "quantitative", "title": "NADPH / NADP"}}}
]
}
]
},
{
"bounds": "flush", "spacing": 0,
"resolve": {"scale": {"color": "independent", "xOffset": "independent", "stroke": "independent", "fill": "independent", "strokeDash": "independent"}, "legend": {"color": "independent", "stroke": "independent", "fill": "independent", "strokeDash": "independent"}},
"hconcat": [
{"width": 99, "height": 147, "data": {"values": [{"k": 1}]}, "mark": {"type": "point", "opacity": 0, "size": 1},
"encoding": {"x": {"datum": 0, "type": "quantitative", "scale": {"domain": [0, 1]}, "axis": {"orient": "top", "domain": false, "ticks": false, "labels": false, "grid": false, "title": "E", "titleX": 0, "titleY": -19, "titleAlign": "left", "titleBaseline": "alphabetic", "titleAngle": 0, "titleFontSize": 18}},
"y": {"datum": 0, "type": "quantitative", "scale": {"domain": [0, 1]}, "axis": {"orient": "left", "domain": false, "ticks": false, "labels": false, "grid": false, "title": "CM-H2DCFDA", "titleX": 51.5, "titleY": 56, "titleAlign": "center", "titleBaseline": "alphabetic", "titleAngle": -90, "titleFontSize": 12.5, "titleFontWeight": "normal"}}}},
{
"width": 170, "height": 111,
"layer": [
{"data": {"name": "e"}, "transform": [{"filter": "datum.row === 't' && datum.cell === 'HeyA8'"}], "mark": {"type": "bar"},
"encoding": {
"x": {"field": "time", "type": "nominal", "scale": {"domain": ["24h","36h","48h","72h"], "paddingInner": 0.354, "paddingOuter": 0.19}, "axis": {"title": null, "labelAngle": 0, "ticks": false, "labelFontSize": 10, "labelPadding": 5}},
"xOffset": {"field": "grp", "type": "nominal", "scale": {"domain": ["siControl","siPFKFB2"], "paddingInner": 0.31}},
"y": {"field": "v", "type": "quantitative", "title": "MFI: Fold Change", "scale": {"domain": [0, 3], "nice": false}, "axis": {"values": [0,1,2,3], "tickCount": 4, "labelOverlap": false, "titleFontSize": 9, "labelFontSize": 10, "tickSize": 3, "titlePadding": 5}},
"color": {"field": "grp", "type": "nominal", "scale": {"domain": ["siControl","siPFKFB2"], "range": ["#000000","#A5A5A8"]}, "legend": null}}},
{"data": {"name": "e"}, "transform": [{"filter": "datum.row === 't' && datum.cell === 'HeyA8'"}], "mark": {"type": "rule", "color": "#000", "strokeWidth": 1.2},
"encoding": {"x": {"field": "time", "type": "nominal"}, "xOffset": {"field": "grp", "type": "nominal"}, "y": {"field": "v", "type": "quantitative", "title": "MFI: Fold Change"}, "y2": {"field": "hi"}}},
{"data": {"name": "e"}, "transform": [{"filter": "datum.row === 't' && datum.cell === 'HeyA8'"}], "mark": {"type": "tick", "color": "#000", "thickness": 1.2, "size": 6},
"encoding": {"x": {"field": "time", "type": "nominal"}, "xOffset": {"field": "grp", "type": "nominal"}, "y": {"field": "hi", "type": "quantitative", "title": "MFI: Fold Change"}}},
{"data": {"name": "ebr"}, "transform": [{"filter": "datum.row === 't' && datum.cell === 'HeyA8'"}], "mark": {"type": "rule", "color": "#333", "strokeWidth": 1},
"encoding": {"x": {"field": "time", "type": "nominal"}, "xOffset": {"datum": "siControl"}, "y": {"field": "yl", "type": "quantitative", "title": "MFI: Fold Change"}, "y2": {"field": "yb"}}},
{"data": {"name": "ebr"}, "transform": [{"filter": "datum.row === 't' && datum.cell === 'HeyA8'"}], "mark": {"type": "tick", "color": "#333", "thickness": 1, "size": 16},
"encoding": {"x": {"field": "time", "type": "nominal"}, "y": {"field": "yb", "type": "quantitative", "title": "MFI: Fold Change"}}},
{"data": {"name": "ebr"}, "transform": [{"filter": "datum.row === 't' && datum.cell === 'HeyA8'"}], "mark": {"type": "text", "baseline": "alphabetic", "dy": -1, "fontSize": 10, "color": "#333"},
"encoding": {"x": {"field": "time", "type": "nominal"}, "y": {"field": "yb", "type": "quantitative", "title": "MFI: Fold Change"}, "text": {"field": "star"}}}
]
},
{"width": 39, "height": 1, "data": {"values": [{"k": 1}]}, "mark": {"type": "point", "opacity": 0, "size": 1},
"encoding": {"x": {"datum": 0, "type": "quantitative", "scale": {"domain": [0, 1]}, "axis": {"orient": "top", "domain": false, "ticks": false, "labels": false, "grid": false, "title": "HeyA8", "titleX": -85, "titleY": -17, "titleAlign": "center", "titleBaseline": "alphabetic", "titleAngle": 0, "titleFontSize": 13}},
"y": {"datum": 0, "type": "quantitative", "scale": {"domain": [0, 1]}, "axis": null}}},
{
"width": 170, "height": 111,
"layer": [
{"data": {"name": "e"}, "transform": [{"filter": "datum.row === 't' && datum.cell === 'A2780'"}], "mark": {"type": "bar"},
"encoding": {
"x": {"field": "time", "type": "nominal", "scale": {"domain": ["24h","36h","48h","72h"], "paddingInner": 0.354, "paddingOuter": 0.19}, "axis": {"title": null, "labelAngle": 0, "ticks": false, "labelFontSize": 10, "labelPadding": 5}},
"xOffset": {"field": "grp", "type": "nominal", "scale": {"domain": ["siControl","siPFKFB2"], "paddingInner": 0.31}},
"y": {"field": "v", "type": "quantitative", "title": "MFI: Fold Change", "scale": {"domain": [0, 3], "nice": false}, "axis": {"values": [0,1,2,3], "tickCount": 4, "labelOverlap": false, "titleFontSize": 9, "labelFontSize": 10, "tickSize": 3, "titlePadding": 5}},
"color": {"field": "grp", "type": "nominal", "scale": {"domain": ["siControl","siPFKFB2"], "range": ["#000000","#A5A5A8"]}, "legend": null}}},
{"data": {"name": "e"}, "transform": [{"filter": "datum.row === 't' && datum.cell === 'A2780'"}], "mark": {"type": "rule", "color": "#000", "strokeWidth": 1.2},
"encoding": {"x": {"field": "time", "type": "nominal"}, "xOffset": {"field": "grp", "type": "nominal"}, "y": {"field": "v", "type": "quantitative", "title": "MFI: Fold Change"}, "y2": {"field": "hi"}}},
{"data": {"name": "e"}, "transform": [{"filter": "datum.row === 't' && datum.cell === 'A2780'"}], "mark": {"type": "tick", "color": "#000", "thickness": 1.2, "size": 6},
"encoding": {"x": {"field": "time", "type": "nominal"}, "xOffset": {"field": "grp", "type": "nominal"}, "y": {"field": "hi", "type": "quantitative", "title": "MFI: Fold Change"}}},
{"data": {"name": "ebr"}, "transform": [{"filter": "datum.row === 't' && datum.cell === 'A2780'"}], "mark": {"type": "rule", "color": "#333", "strokeWidth": 1},
"encoding": {"x": {"field": "time", "type": "nominal"}, "xOffset": {"datum": "siControl"}, "y": {"field": "yl", "type": "quantitative", "title": "MFI: Fold Change"}, "y2": {"field": "yb"}}},
{"data": {"name": "ebr"}, "transform": [{"filter": "datum.row === 't' && datum.cell === 'A2780'"}], "mark": {"type": "tick", "color": "#333", "thickness": 1, "size": 16},
"encoding": {"x": {"field": "time", "type": "nominal"}, "y": {"field": "yb", "type": "quantitative", "title": "MFI: Fold Change"}}},
{"data": {"name": "ebr"}, "transform": [{"filter": "datum.row === 't' && datum.cell === 'A2780'"}], "mark": {"type": "text", "baseline": "alphabetic", "dy": -1, "fontSize": 10, "color": "#333"},
"encoding": {"x": {"field": "time", "type": "nominal"}, "y": {"field": "yb", "type": "quantitative", "title": "MFI: Fold Change"}, "text": {"field": "star"}}}
]
},
{"width": 39, "height": 1, "data": {"values": [{"k": 1}]}, "mark": {"type": "point", "opacity": 0, "size": 1},
"encoding": {"x": {"datum": 0, "type": "quantitative", "scale": {"domain": [0, 1]}, "axis": {"orient": "top", "domain": false, "ticks": false, "labels": false, "grid": false, "title": "A2780", "titleX": -85, "titleY": -17, "titleAlign": "center", "titleBaseline": "alphabetic", "titleAngle": 0, "titleFontSize": 13}},
"y": {"datum": 0, "type": "quantitative", "scale": {"domain": [0, 1]}, "axis": null}}},
{
"width": 170, "height": 111,
"layer": [
{"data": {"name": "e"}, "transform": [{"filter": "datum.row === 't' && datum.cell === 'MCF-7'"}], "mark": {"type": "bar"},
"encoding": {
"x": {"field": "time", "type": "nominal", "scale": {"domain": ["24h","36h","48h","72h"], "paddingInner": 0.354, "paddingOuter": 0.19}, "axis": {"title": null, "labelAngle": 0, "ticks": false, "labelFontSize": 10, "labelPadding": 5}},
"xOffset": {"field": "grp", "type": "nominal", "scale": {"domain": ["siControl","siPFKFB2"], "paddingInner": 0.31}},
"y": {"field": "v", "type": "quantitative", "title": "MFI: Fold Change", "scale": {"domain": [0, 3], "nice": false}, "axis": {"values": [0,1,2,3], "tickCount": 4, "labelOverlap": false, "titleFontSize": 9, "labelFontSize": 10, "tickSize": 3, "titlePadding": 5}},
"color": {"field": "grp", "type": "nominal", "scale": {"domain": ["siControl","siPFKFB2"], "range": ["#000000","#A5A5A8"]}, "legend": {"title": null, "orient": "right", "offset": 5, "symbolType": "M-1.45,-1H1.45V1H-1.45Z", "symbolSize": 81, "symbolStrokeWidth": 0, "labelFontSize": 11, "rowPadding": 2}}}},
{"data": {"name": "e"}, "transform": [{"filter": "datum.row === 't' && datum.cell === 'MCF-7'"}], "mark": {"type": "rule", "color": "#000", "strokeWidth": 1.2},
"encoding": {"x": {"field": "time", "type": "nominal"}, "xOffset": {"field": "grp", "type": "nominal"}, "y": {"field": "v", "type": "quantitative", "title": "MFI: Fold Change"}, "y2": {"field": "hi"}}},
{"data": {"name": "e"}, "transform": [{"filter": "datum.row === 't' && datum.cell === 'MCF-7'"}], "mark": {"type": "tick", "color": "#000", "thickness": 1.2, "size": 6},
"encoding": {"x": {"field": "time", "type": "nominal"}, "xOffset": {"field": "grp", "type": "nominal"}, "y": {"field": "hi", "type": "quantitative", "title": "MFI: Fold Change"}}},
{"data": {"name": "ebr"}, "transform": [{"filter": "datum.row === 't' && datum.cell === 'MCF-7'"}], "mark": {"type": "rule", "color": "#333", "strokeWidth": 1},
"encoding": {"x": {"field": "time", "type": "nominal"}, "xOffset": {"datum": "siControl"}, "y": {"field": "yl", "type": "quantitative", "title": "MFI: Fold Change"}, "y2": {"field": "yb"}}},
{"data": {"name": "ebr"}, "transform": [{"filter": "datum.row === 't' && datum.cell === 'MCF-7'"}], "mark": {"type": "tick", "color": "#333", "thickness": 1, "size": 16},
"encoding": {"x": {"field": "time", "type": "nominal"}, "y": {"field": "yb", "type": "quantitative", "title": "MFI: Fold Change"}}},
{"data": {"name": "ebr"}, "transform": [{"filter": "datum.row === 't' && datum.cell === 'MCF-7'"}], "mark": {"type": "text", "baseline": "alphabetic", "dy": -1, "fontSize": 10, "color": "#333"},
"encoding": {"x": {"field": "time", "type": "nominal"}, "y": {"field": "yb", "type": "quantitative", "title": "MFI: Fold Change"}, "text": {"field": "star"}}}
]
},
{"width": 1, "height": 1, "data": {"values": [{"k": 1}]}, "mark": {"type": "point", "opacity": 0, "size": 1},
"encoding": {"x": {"datum": 0, "type": "quantitative", "scale": {"domain": [0, 1]}, "axis": {"orient": "top", "domain": false, "ticks": false, "labels": false, "grid": false, "title": "MCF-7", "titleX": -85, "titleY": -17, "titleAlign": "center", "titleBaseline": "alphabetic", "titleAngle": 0, "titleFontSize": 13}},
"y": {"datum": 0, "type": "quantitative", "scale": {"domain": [0, 1]}, "axis": null}}}
]
},
{
"bounds": "flush", "spacing": 0,
"resolve": {"scale": {"color": "independent", "xOffset": "independent", "stroke": "independent", "fill": "independent", "strokeDash": "independent"}, "legend": {"color": "independent", "stroke": "independent", "fill": "independent", "strokeDash": "independent"}},
"hconcat": [
{"width": 99, "height": 166, "data": {"values": [{"k": 1}]}, "mark": {"type": "point", "opacity": 0, "size": 1},
"encoding": {"x": {"datum": 0, "type": "quantitative", "scale": {"domain": [0, 1]}, "axis": null},
"y": {"datum": 0, "type": "quantitative", "scale": {"domain": [0, 1]}, "axis": {"orient": "left", "domain": false, "ticks": false, "labels": false, "grid": false, "title": "Dihydroethidium", "titleX": 51.5, "titleY": 53, "titleAlign": "center", "titleBaseline": "alphabetic", "titleAngle": -90, "titleFontSize": 12.5, "titleFontWeight": "normal"}}}},
{
"width": 170, "height": 111,
"layer": [
{"data": {"name": "e"}, "transform": [{"filter": "datum.row === 'b' && datum.cell === 'HeyA8'"}], "mark": {"type": "bar"},
"encoding": {
"x": {"field": "time", "type": "nominal", "scale": {"domain": ["24h","36h","48h","72h"], "paddingInner": 0.354, "paddingOuter": 0.19}, "axis": {"title": null, "labelAngle": 0, "ticks": false, "labelFontSize": 10, "labelPadding": 5}},
"xOffset": {"field": "grp", "type": "nominal", "scale": {"domain": ["siControl","siPFKFB2"], "paddingInner": 0.31}},
"y": {"field": "v", "type": "quantitative", "title": "MFI: Fold Change", "scale": {"domain": [0, 3], "nice": false}, "axis": {"values": [0,1,2,3], "tickCount": 4, "labelOverlap": false, "titleFontSize": 9, "labelFontSize": 10, "tickSize": 3, "titlePadding": 5}},
"color": {"field": "grp", "type": "nominal", "scale": {"domain": ["siControl","siPFKFB2"], "range": ["#000000","#A5A5A8"]}, "legend": null}}},
{"data": {"name": "e"}, "transform": [{"filter": "datum.row === 'b' && datum.cell === 'HeyA8'"}], "mark": {"type": "rule", "color": "#000", "strokeWidth": 1.2},
"encoding": {"x": {"field": "time", "type": "nominal"}, "xOffset": {"field": "grp", "type": "nominal"}, "y": {"field": "v", "type": "quantitative", "title": "MFI: Fold Change"}, "y2": {"field": "hi"}}},
{"data": {"name": "e"}, "transform": [{"filter": "datum.row === 'b' && datum.cell === 'HeyA8'"}], "mark": {"type": "tick", "color": "#000", "thickness": 1.2, "size": 6},
"encoding": {"x": {"field": "time", "type": "nominal"}, "xOffset": {"field": "grp", "type": "nominal"}, "y": {"field": "hi", "type": "quantitative", "title": "MFI: Fold Change"}}},
{"data": {"name": "ebr"}, "transform": [{"filter": "datum.row === 'b' && datum.cell === 'HeyA8'"}], "mark": {"type": "rule", "color": "#333", "strokeWidth": 1},
"encoding": {"x": {"field": "time", "type": "nominal"}, "xOffset": {"datum": "siControl"}, "y": {"field": "yl", "type": "quantitative", "title": "MFI: Fold Change"}, "y2": {"field": "yb"}}},
{"data": {"name": "ebr"}, "transform": [{"filter": "datum.row === 'b' && datum.cell === 'HeyA8'"}], "mark": {"type": "tick", "color": "#333", "thickness": 1, "size": 16},
"encoding": {"x": {"field": "time", "type": "nominal"}, "y": {"field": "yb", "type": "quantitative", "title": "MFI: Fold Change"}}},
{"data": {"name": "ebr"}, "transform": [{"filter": "datum.row === 'b' && datum.cell === 'HeyA8'"}], "mark": {"type": "text", "baseline": "alphabetic", "dy": -1, "fontSize": 10, "color": "#333"},
"encoding": {"x": {"field": "time", "type": "nominal"}, "y": {"field": "yb", "type": "quantitative", "title": "MFI: Fold Change"}, "text": {"field": "star"}}}
]
},
{"width": 39, "height": 1, "data": {"values": [{"k": 1}]}, "mark": {"type": "point", "opacity": 0, "size": 1}, "encoding": {}},
{
"width": 170, "height": 111,
"layer": [
{"data": {"name": "e"}, "transform": [{"filter": "datum.row === 'b' && datum.cell === 'A2780'"}], "mark": {"type": "bar"},
"encoding": {
"x": {"field": "time", "type": "nominal", "scale": {"domain": ["24h","36h","48h","72h"], "paddingInner": 0.354, "paddingOuter": 0.19}, "axis": {"title": null, "labelAngle": 0, "ticks": false, "labelFontSize": 10, "labelPadding": 5}},
"xOffset": {"field": "grp", "type": "nominal", "scale": {"domain": ["siControl","siPFKFB2"], "paddingInner": 0.31}},
"y": {"field": "v", "type": "quantitative", "title": "MFI: Fold Change", "scale": {"domain": [0, 3], "nice": false}, "axis": {"values": [0,1,2,3], "tickCount": 4, "labelOverlap": false, "titleFontSize": 9, "labelFontSize": 10, "tickSize": 3, "titlePadding": 5}},
"color": {"field": "grp", "type": "nominal", "scale": {"domain": ["siControl","siPFKFB2"], "range": ["#000000","#A5A5A8"]}, "legend": null}}},
{"data": {"name": "e"}, "transform": [{"filter": "datum.row === 'b' && datum.cell === 'A2780'"}], "mark": {"type": "rule", "color": "#000", "strokeWidth": 1.2},
"encoding": {"x": {"field": "time", "type": "nominal"}, "xOffset": {"field": "grp", "type": "nominal"}, "y": {"field": "v", "type": "quantitative", "title": "MFI: Fold Change"}, "y2": {"field": "hi"}}},
{"data": {"name": "e"}, "transform": [{"filter": "datum.row === 'b' && datum.cell === 'A2780'"}], "mark": {"type": "tick", "color": "#000", "thickness": 1.2, "size": 6},
"encoding": {"x": {"field": "time", "type": "nominal"}, "xOffset": {"field": "grp", "type": "nominal"}, "y": {"field": "hi", "type": "quantitative", "title": "MFI: Fold Change"}}},
{"data": {"name": "ebr"}, "transform": [{"filter": "datum.row === 'b' && datum.cell === 'A2780'"}], "mark": {"type": "rule", "color": "#333", "strokeWidth": 1},
"encoding": {"x": {"field": "time", "type": "nominal"}, "xOffset": {"datum": "siControl"}, "y": {"field": "yl", "type": "quantitative", "title": "MFI: Fold Change"}, "y2": {"field": "yb"}}},
{"data": {"name": "ebr"}, "transform": [{"filter": "datum.row === 'b' && datum.cell === 'A2780'"}], "mark": {"type": "tick", "color": "#333", "thickness": 1, "size": 16},
"encoding": {"x": {"field": "time", "type": "nominal"}, "y": {"field": "yb", "type": "quantitative", "title": "MFI: Fold Change"}}},
{"data": {"name": "ebr"}, "transform": [{"filter": "datum.row === 'b' && datum.cell === 'A2780'"}], "mark": {"type": "text", "baseline": "alphabetic", "dy": -1, "fontSize": 10, "color": "#333"},
"encoding": {"x": {"field": "time", "type": "nominal"}, "y": {"field": "yb", "type": "quantitative", "title": "MFI: Fold Change"}, "text": {"field": "star"}}}
]
},
{"width": 39, "height": 1, "data": {"values": [{"k": 1}]}, "mark": {"type": "point", "opacity": 0, "size": 1}, "encoding": {}},
{
"width": 170, "height": 111,
"layer": [
{"data": {"name": "e"}, "transform": [{"filter": "datum.row === 'b' && datum.cell === 'MCF-7'"}], "mark": {"type": "bar"},
"encoding": {
"x": {"field": "time", "type": "nominal", "scale": {"domain": ["24h","36h","48h","72h"], "paddingInner": 0.354, "paddingOuter": 0.19}, "axis": {"title": null, "labelAngle": 0, "ticks": false, "labelFontSize": 10, "labelPadding": 5}},
"xOffset": {"field": "grp", "type": "nominal", "scale": {"domain": ["siControl","siPFKFB2"], "paddingInner": 0.31}},
"y": {"field": "v", "type": "quantitative", "title": "MFI: Fold Change", "scale": {"domain": [0, 3], "nice": false}, "axis": {"values": [0,1,2,3], "tickCount": 4, "labelOverlap": false, "titleFontSize": 9, "labelFontSize": 10, "tickSize": 3, "titlePadding": 5}},
"color": {"field": "grp", "type": "nominal", "scale": {"domain": ["siControl","siPFKFB2"], "range": ["#000000","#A5A5A8"]}, "legend": {"title": null, "orient": "right", "offset": 3, "symbolType": "M-1.45,-1H1.45V1H-1.45Z", "symbolSize": 81, "symbolStrokeWidth": 0, "labelFontSize": 11, "rowPadding": 2}}}},
{"data": {"name": "e"}, "transform": [{"filter": "datum.row === 'b' && datum.cell === 'MCF-7'"}], "mark": {"type": "rule", "color": "#000", "strokeWidth": 1.2},
"encoding": {"x": {"field": "time", "type": "nominal"}, "xOffset": {"field": "grp", "type": "nominal"}, "y": {"field": "v", "type": "quantitative", "title": "MFI: Fold Change"}, "y2": {"field": "hi"}}},
{"data": {"name": "e"}, "transform": [{"filter": "datum.row === 'b' && datum.cell === 'MCF-7'"}], "mark": {"type": "tick", "color": "#000", "thickness": 1.2, "size": 6},
"encoding": {"x": {"field": "time", "type": "nominal"}, "xOffset": {"field": "grp", "type": "nominal"}, "y": {"field": "hi", "type": "quantitative", "title": "MFI: Fold Change"}}},
{"data": {"name": "ebr"}, "transform": [{"filter": "datum.row === 'b' && datum.cell === 'MCF-7'"}], "mark": {"type": "rule", "color": "#333", "strokeWidth": 1},
"encoding": {"x": {"field": "time", "type": "nominal"}, "xOffset": {"datum": "siControl"}, "y": {"field": "yl", "type": "quantitative", "title": "MFI: Fold Change"}, "y2": {"field": "yb"}}},
{"data": {"name": "ebr"}, "transform": [{"filter": "datum.row === 'b' && datum.cell === 'MCF-7'"}], "mark": {"type": "tick", "color": "#333", "thickness": 1, "size": 16},
"encoding": {"x": {"field": "time", "type": "nominal"}, "y": {"field": "yb", "type": "quantitative", "title": "MFI: Fold Change"}}},
{"data": {"name": "ebr"}, "transform": [{"filter": "datum.row === 'b' && datum.cell === 'MCF-7'"}], "mark": {"type": "text", "baseline": "alphabetic", "dy": -1, "fontSize": 10, "color": "#333"},
"encoding": {"x": {"field": "time", "type": "nominal"}, "y": {"field": "yb", "type": "quantitative", "title": "MFI: Fold Change"}, "text": {"field": "star"}}}
]
}
]
},
{
"bounds": "flush", "spacing": 0,
"resolve": {"scale": {"color": "independent", "xOffset": "independent", "stroke": "independent", "fill": "independent", "strokeDash": "independent"}, "legend": {"color": "independent", "stroke": "independent", "fill": "independent", "strokeDash": "independent"}},
"hconcat": [
{"width": 79, "height": 165, "data": {"values": [{"k": 1}]}, "mark": {"type": "point", "opacity": 0, "size": 1},
"encoding": {"x": {"datum": 0, "type": "quantitative", "scale": {"domain": [0, 1]}, "axis": {"orient": "top", "domain": false, "ticks": false, "labels": false, "grid": false, "title": "F", "titleX": 0, "titleY": -30, "titleAlign": "left", "titleBaseline": "alphabetic", "titleAngle": 0, "titleFontSize": 18}},
"y": {"datum": 0, "type": "quantitative", "scale": {"domain": [0, 1]}, "axis": {"orient": "left", "domain": false, "ticks": false, "labels": false, "grid": false, "title": "HeyA8", "titleX": 172, "titleY": -12, "titleAlign": "center", "titleBaseline": "alphabetic", "titleAngle": 0, "titleFontSize": 13, "titleFont": "Liberation Sans Narrow, DejaVu Sans Condensed, sans-serif"}}}},
{
"width": 186, "height": 120,
"layer": [
{"data": {"name": "f"}, "transform": [{"filter": "datum.cell === 'HeyA8'"}], "mark": {"type": "bar"},
"encoding": {
"x": {"field": "nac", "type": "nominal", "scale": {"domain": ["0","0.125","0.25"], "paddingInner": 0.275, "paddingOuter": 0.17}, "axis": {"title": "NAC (mg/mL)", "titlePadding": 14, "labelAngle": 0, "tickSize": 3, "labelFont": "Liberation Sans Narrow, DejaVu Sans Condensed, sans-serif", "titleFont": "Liberation Sans Narrow, DejaVu Sans Condensed, sans-serif", "labelFontSize": 11, "titleFontSize": 11}},
"xOffset": {"field": "grp", "type": "nominal", "scale": {"domain": ["siControl","siPFKFB2#6","siPFKFB2#7"], "paddingInner": 0.133}},
"y": {"field": "v", "type": "quantitative", "title": "Number of Colonies", "scale": {"domain": [0, 250], "nice": false}, "axis": {"values": [0,50,100,150,200,250], "tickCount": 6, "labelOverlap": false, "labelFont": "Liberation Sans Narrow, DejaVu Sans Condensed, sans-serif", "titleFont": "Liberation Sans Narrow, DejaVu Sans Condensed, sans-serif", "labelFontSize": 11, "titleFontSize": 11, "titlePadding": 5}},
"color": {"field": "grp", "type": "nominal", "scale": {"domain": ["siControl","siPFKFB2#6","siPFKFB2#7"], "range": ["#000000","#A6A6A6","#5F5F5F"]}, "legend": null}}},
{"data": {"name": "f"}, "transform": [{"filter": "datum.cell === 'HeyA8'"}], "mark": {"type": "rule", "strokeWidth": 1.3},
"encoding": {"x": {"field": "nac", "type": "nominal"}, "xOffset": {"field": "grp", "type": "nominal"}, "y": {"field": "v", "type": "quantitative", "title": "Number of Colonies"}, "y2": {"field": "hi"},
"stroke": {"field": "grp", "type": "nominal", "scale": {"domain": ["siControl","siPFKFB2#6","siPFKFB2#7"], "range": ["#000000","#A6A6A6","#5F5F5F"]}, "legend": null}}},
{"data": {"name": "f"}, "transform": [{"filter": "datum.cell === 'HeyA8'"}], "mark": {"type": "tick", "thickness": 1.3, "size": 7},
"encoding": {"x": {"field": "nac", "type": "nominal"}, "xOffset": {"field": "grp", "type": "nominal"}, "y": {"field": "hi", "type": "quantitative", "title": "Number of Colonies"},
"fill": {"field": "grp", "type": "nominal", "scale": {"domain": ["siControl","siPFKFB2#6","siPFKFB2#7"], "range": ["#000000","#A6A6A6","#5F5F5F"]}, "legend": null}}},
{"data": {"name": "fbr"}, "transform": [{"filter": "datum.cell === 'HeyA8'"}], "mark": {"type": "line", "color": "#111", "strokeWidth": 1.3},
"encoding": {"x": {"field": "nac", "type": "nominal"}, "xOffset": {"field": "grp", "type": "nominal"}, "y": {"field": "y", "type": "quantitative", "title": "Number of Colonies"}, "detail": {"field": "seg", "type": "nominal"}, "order": {"field": "ord", "type": "quantitative"},
"strokeDash": {"field": "kind", "type": "nominal", "scale": {"domain": ["s","d"], "range": [[1,0],[3,2]]}, "legend": null}}},
{"data": {"name": "fst"}, "transform": [{"filter": "datum.cell === 'HeyA8'"}], "mark": {"type": "text", "text": "**", "baseline": "alphabetic", "dy": 7, "fontSize": 12, "fontWeight": "bold", "color": "#111", "font": "Liberation Sans Narrow, DejaVu Sans Condensed, sans-serif"},
"encoding": {"x": {"field": "nac", "type": "nominal"}, "xOffset": {"field": "grp", "type": "nominal"}, "y": {"field": "y", "type": "quantitative", "title": "Number of Colonies"}}}
]
},
{"width": 43, "height": 1, "data": {"values": [{"k": 1}]}, "mark": {"type": "point", "opacity": 0, "size": 1},
"encoding": {"x": {"datum": 0, "type": "quantitative", "scale": {"domain": [0, 1]}, "axis": {"orient": "top", "domain": false, "ticks": false, "labels": false, "grid": false, "title": "A2780", "titleX": 132.5, "titleY": -12, "titleAlign": "center", "titleBaseline": "alphabetic", "titleAngle": 0, "titleFontSize": 13, "titleFont": "Liberation Sans Narrow, DejaVu Sans Condensed, sans-serif"}},
"y": {"datum": 0, "type": "quantitative", "scale": {"domain": [0, 1]}, "axis": null}}},
{
"width": 179, "height": 120,
"layer": [
{"data": {"name": "f"}, "transform": [{"filter": "datum.cell === 'A2780'"}], "mark": {"type": "bar"},
"encoding": {
"x": {"field": "nac", "type": "nominal", "scale": {"domain": ["0","0.125","0.25"], "paddingInner": 0.275, "paddingOuter": 0.17}, "axis": {"title": "NAC (mg/mL)", "titlePadding": 14, "labelAngle": 0, "tickSize": 3, "labelFont": "Liberation Sans Narrow, DejaVu Sans Condensed, sans-serif", "titleFont": "Liberation Sans Narrow, DejaVu Sans Condensed, sans-serif", "labelFontSize": 11, "titleFontSize": 11}},
"xOffset": {"field": "grp", "type": "nominal", "scale": {"domain": ["siControl","siPFKFB2#6","siPFKFB2#7"], "paddingInner": 0.133}},
"y": {"field": "v", "type": "quantitative", "title": "Number of Colonies", "scale": {"domain": [0, 300], "nice": false}, "axis": {"values": [0,50,100,150,200,250,300], "tickCount": 7, "labelOverlap": false, "labelFont": "Liberation Sans Narrow, DejaVu Sans Condensed, sans-serif", "titleFont": "Liberation Sans Narrow, DejaVu Sans Condensed, sans-serif", "labelFontSize": 11, "titleFontSize": 11, "titlePadding": 5}},
"color": {"field": "grp", "type": "nominal", "scale": {"domain": ["siControl","siPFKFB2#6","siPFKFB2#7"], "range": ["#000000","#A6A6A6","#5F5F5F"]}, "legend": null}}},
{"data": {"name": "f"}, "transform": [{"filter": "datum.cell === 'A2780'"}], "mark": {"type": "rule", "strokeWidth": 1.3},
"encoding": {"x": {"field": "nac", "type": "nominal"}, "xOffset": {"field": "grp", "type": "nominal"}, "y": {"field": "v", "type": "quantitative", "title": "Number of Colonies"}, "y2": {"field": "hi"},
"stroke": {"field": "grp", "type": "nominal", "scale": {"domain": ["siControl","siPFKFB2#6","siPFKFB2#7"], "range": ["#000000","#A6A6A6","#5F5F5F"]}, "legend": null}}},
{"data": {"name": "f"}, "transform": [{"filter": "datum.cell === 'A2780'"}], "mark": {"type": "tick", "thickness": 1.3, "size": 7},
"encoding": {"x": {"field": "nac", "type": "nominal"}, "xOffset": {"field": "grp", "type": "nominal"}, "y": {"field": "hi", "type": "quantitative", "title": "Number of Colonies"},
"fill": {"field": "grp", "type": "nominal", "scale": {"domain": ["siControl","siPFKFB2#6","siPFKFB2#7"], "range": ["#000000","#A6A6A6","#5F5F5F"]}, "legend": null}}},
{"data": {"name": "fbr"}, "transform": [{"filter": "datum.cell === 'A2780'"}], "mark": {"type": "line", "color": "#111", "strokeWidth": 1.3},
"encoding": {"x": {"field": "nac", "type": "nominal"}, "xOffset": {"field": "grp", "type": "nominal"}, "y": {"field": "y", "type": "quantitative", "title": "Number of Colonies"}, "detail": {"field": "seg", "type": "nominal"}, "order": {"field": "ord", "type": "quantitative"},
"strokeDash": {"field": "kind", "type": "nominal", "scale": {"domain": ["s","d"], "range": [[1,0],[3,2]]}, "legend": null}}},
{"data": {"name": "fst"}, "transform": [{"filter": "datum.cell === 'A2780'"}], "mark": {"type": "text", "text": "**", "baseline": "alphabetic", "dy": 7, "fontSize": 12, "fontWeight": "bold", "color": "#111", "font": "Liberation Sans Narrow, DejaVu Sans Condensed, sans-serif"},
"encoding": {"x": {"field": "nac", "type": "nominal"}, "xOffset": {"field": "grp", "type": "nominal"}, "y": {"field": "y", "type": "quantitative", "title": "Number of Colonies"}}}
]
},
{"width": 43, "height": 1, "data": {"values": [{"k": 1}]}, "mark": {"type": "point", "opacity": 0, "size": 1},
"encoding": {"x": {"datum": 0, "type": "quantitative", "scale": {"domain": [0, 1]}, "axis": {"orient": "top", "domain": false, "ticks": false, "labels": false, "grid": false, "title": "MCF7", "titleX": 134.5, "titleY": -12, "titleAlign": "center", "titleBaseline": "alphabetic", "titleAngle": 0, "titleFontSize": 13, "titleFont": "Liberation Sans Narrow, DejaVu Sans Condensed, sans-serif"}},
"y": {"datum": 0, "type": "quantitative", "scale": {"domain": [0, 1]}, "axis": null}}},
{
"width": 183, "height": 120,
"layer": [
{"data": {"name": "f"}, "transform": [{"filter": "datum.cell === 'MCF7'"}], "mark": {"type": "bar"},
"encoding": {
"x": {"field": "nac", "type": "nominal", "scale": {"domain": ["0","0.5","1"], "paddingInner": 0.275, "paddingOuter": 0.17}, "axis": {"title": "NAC (mg/mL)", "titlePadding": 14, "labelAngle": 0, "tickSize": 3, "labelFont": "Liberation Sans Narrow, DejaVu Sans Condensed, sans-serif", "titleFont": "Liberation Sans Narrow, DejaVu Sans Condensed, sans-serif", "labelFontSize": 11, "titleFontSize": 11}},
"xOffset": {"field": "grp", "type": "nominal", "scale": {"domain": ["siControl","siPFKFB2#6","siPFKFB2#7"], "paddingInner": 0.133}},
"y": {"field": "v", "type": "quantitative", "title": "Number of Colonies", "scale": {"domain": [0, 100], "nice": false}, "axis": {"values": [0,25,50,75,100], "tickCount": 5, "labelOverlap": false, "labelFont": "Liberation Sans Narrow, DejaVu Sans Condensed, sans-serif", "titleFont": "Liberation Sans Narrow, DejaVu Sans Condensed, sans-serif", "labelFontSize": 11, "titleFontSize": 11, "titlePadding": 5}},
"color": {"field": "grp", "type": "nominal", "scale": {"domain": ["siControl","siPFKFB2#6","siPFKFB2#7"], "range": ["#000000","#A6A6A6","#5F5F5F"]}, "legend": {"title": null, "orient": "none", "legendX": 143, "legendY": -40, "symbolType": "M-1.45,-1H1.45V1H-1.45Z", "symbolSize": 56, "symbolStrokeWidth": 0, "labelFontSize": 11, "labelFont": "Liberation Sans Narrow, DejaVu Sans Condensed, sans-serif", "rowPadding": 1}}}},
{"data": {"name": "f"}, "transform": [{"filter": "datum.cell === 'MCF7'"}], "mark": {"type": "rule", "strokeWidth": 1.3},
"encoding": {"x": {"field": "nac", "type": "nominal"}, "xOffset": {"field": "grp", "type": "nominal"}, "y": {"field": "v", "type": "quantitative", "title": "Number of Colonies"}, "y2": {"field": "hi"},
"stroke": {"field": "grp", "type": "nominal", "scale": {"domain": ["siControl","siPFKFB2#6","siPFKFB2#7"], "range": ["#000000","#A6A6A6","#5F5F5F"]}, "legend": null}}},
{"data": {"name": "f"}, "transform": [{"filter": "datum.cell === 'MCF7'"}], "mark": {"type": "tick", "thickness": 1.3, "size": 7},
"encoding": {"x": {"field": "nac", "type": "nominal"}, "xOffset": {"field": "grp", "type": "nominal"}, "y": {"field": "hi", "type": "quantitative", "title": "Number of Colonies"},
"fill": {"field": "grp", "type": "nominal", "scale": {"domain": ["siControl","siPFKFB2#6","siPFKFB2#7"], "range": ["#000000","#A6A6A6","#5F5F5F"]}, "legend": null}}},
{"data": {"name": "fbr"}, "transform": [{"filter": "datum.cell === 'MCF7'"}], "mark": {"type": "line", "color": "#111", "strokeWidth": 1.3},
"encoding": {"x": {"field": "nac", "type": "nominal"}, "xOffset": {"field": "grp", "type": "nominal"}, "y": {"field": "y", "type": "quantitative", "title": "Number of Colonies"}, "detail": {"field": "seg", "type": "nominal"}, "order": {"field": "ord", "type": "quantitative"},
"strokeDash": {"field": "kind", "type": "nominal", "scale": {"domain": ["s","d"], "range": [[1,0],[3,2]]}, "legend": null}}},
{"data": {"name": "fst"}, "transform": [{"filter": "datum.cell === 'MCF7'"}], "mark": {"type": "text", "text": "**", "baseline": "alphabetic", "dy": 7, "fontSize": 12, "fontWeight": "bold", "color": "#111", "font": "Liberation Sans Narrow, DejaVu Sans Condensed, sans-serif"},
"encoding": {"x": {"field": "nac", "type": "nominal"}, "xOffset": {"field": "grp", "type": "nominal"}, "y": {"field": "y", "type": "quantitative", "title": "Number of Colonies"}}}
]
}
]
}
]
}
